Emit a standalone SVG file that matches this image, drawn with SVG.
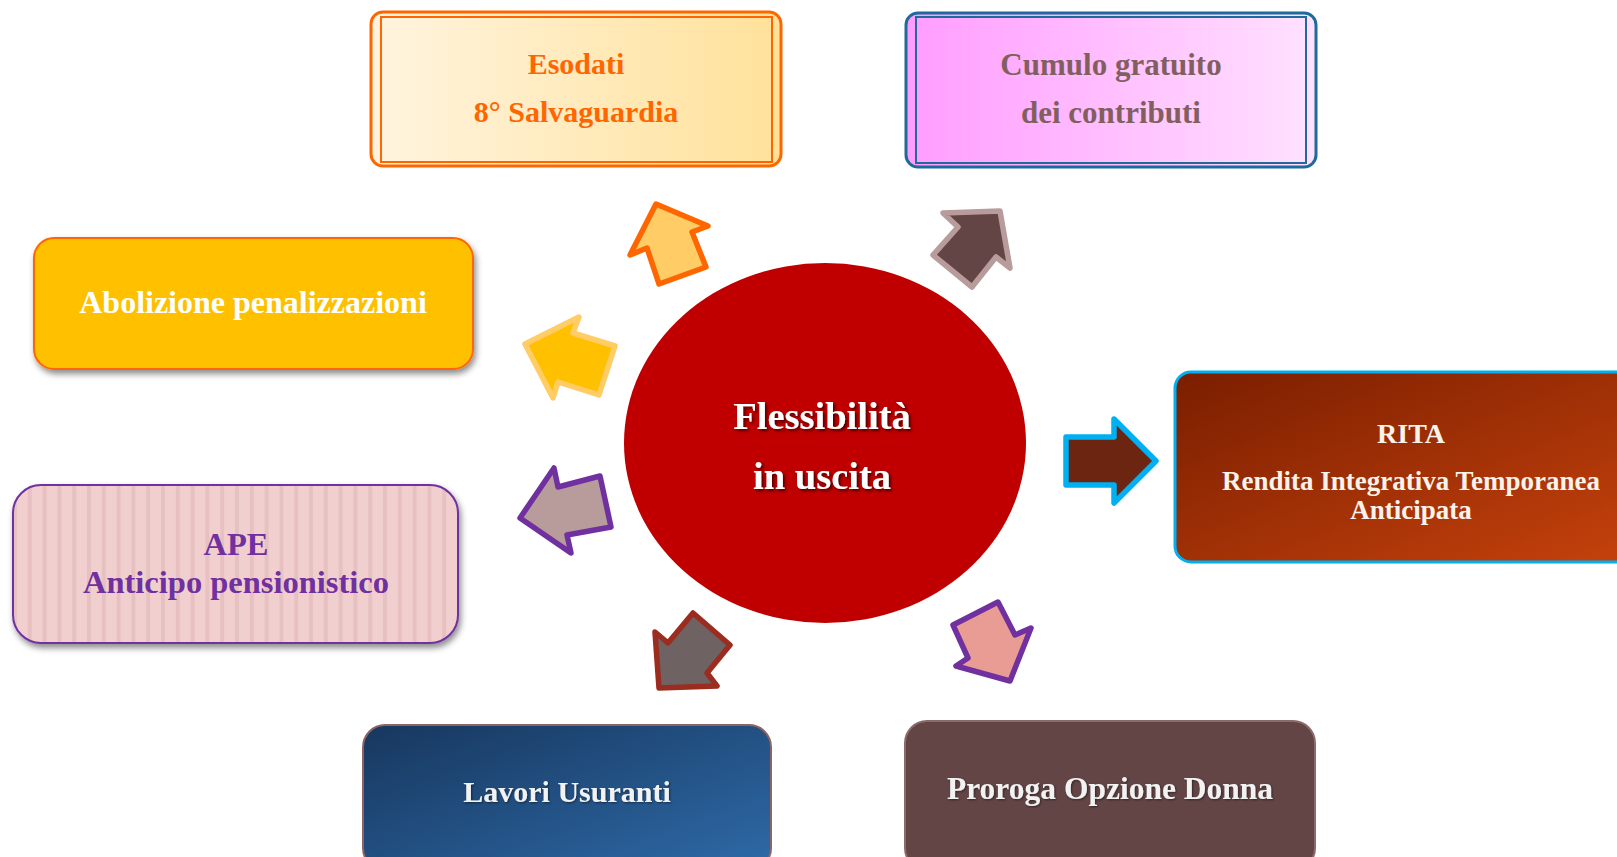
<svg xmlns="http://www.w3.org/2000/svg" width="1617" height="857" viewBox="0 0 1617 857">
<defs>
<linearGradient id="gEso" x1="0" y1="0" x2="1" y2="0"><stop offset="0" stop-color="#FFF4DF"/><stop offset="1" stop-color="#FFE19A"/></linearGradient>
<linearGradient id="gCum" x1="0" y1="0" x2="1" y2="0"><stop offset="0" stop-color="#FF9CFF"/><stop offset="1" stop-color="#FFE2FF"/></linearGradient>
<linearGradient id="gLav" x1="0" y1="0" x2="1" y2="1"><stop offset="0" stop-color="#17375E"/><stop offset="1" stop-color="#2E6AA8"/></linearGradient>
<linearGradient id="gRita" x1="0" y1="0" x2="1" y2="1"><stop offset="0" stop-color="#7A1E00"/><stop offset="1" stop-color="#C6420C"/></linearGradient>
<pattern id="pStripe" patternUnits="userSpaceOnUse" x="13" y="0" width="14.8" height="20"><rect width="14.8" height="20" fill="#F2CFCF"/><rect x="0" width="4" height="20" fill="#E7C1C1"/></pattern>
<filter id="shadow" x="-10%" y="-10%" width="120%" height="130%"><feDropShadow dx="2" dy="4" stdDeviation="3" flood-color="#000" flood-opacity="0.45"/></filter>
<filter id="tshadow" x="-10%" y="-20%" width="120%" height="150%"><feDropShadow dx="2" dy="2" stdDeviation="1.5" flood-color="#400000" flood-opacity="0.9"/></filter>
<filter id="tsoft" x="-10%" y="-20%" width="120%" height="150%"><feDropShadow dx="1" dy="1" stdDeviation="1" flood-color="#000" flood-opacity="0.5"/></filter>
</defs>
<style>
text{font-family:"Liberation Serif","Times New Roman",serif;font-weight:bold;text-anchor:middle}
.arrow{stroke-linejoin:round;stroke-width:5.5}
</style>
<rect width="1617" height="857" fill="#FFFFFF"/>

<g id="connectors">
<polygon class="arrow" fill="#FFCC66" stroke="#FF6600" points="656,204 708,226 692,232 706,267 659,284 647,248 630,255"/>
<polygon class="arrow" fill="#634546" stroke="#B89C9C" points="1000,211 943,213 958,227 933,255 972,287 996,257 1010,268"/>
<polygon class="arrow" fill="#FFC000" stroke="#FFCC66" points="525,344 579,317 573,333 615,346 599,395 558,382 553,398"/>
<polygon class="arrow" fill="#6B2510" stroke="#00B0F0" stroke-width="6" points="1066,437 1114,437 1114,419 1156,461 1114,503 1114,485 1066,485"/>
<polygon class="arrow" fill="#B89C9C" stroke="#7030A0" points="520,518 554,468 558,487 600,476 611,527 567,535 571,553"/>
<polygon class="arrow" fill="#6E6262" stroke="#9B2D20" points="659,688 655,632 668,643 693,613 730,645 707,673 717,686"/>
<polygon class="arrow" fill="#E89C94" stroke="#7030A0" points="1010,681 1031,628 1015,635 998,602 953,625 968,658 956,666"/>
</g>

<g id="center">
<ellipse cx="825" cy="443" rx="201" ry="180" fill="#C00000"/>
<g fill="#FFFFFF" font-size="38.5" filter="url(#tshadow)">
<text x="822" y="429">Flessibilità</text>
<text x="822" y="489">in uscita</text>
</g>
</g>

<g id="esodati">
<rect x="371" y="12" width="410" height="154" rx="12" fill="url(#gEso)" stroke="#FF6600" stroke-width="3"/>
<rect x="381" y="17" width="391" height="145" fill="none" stroke="#FF6600" stroke-width="2"/>
<g fill="#FF6600" font-size="30">
<text x="576" y="74">Esodati</text>
<text x="576" y="122">8° Salvaguardia</text>
</g>
</g>

<g id="cumulo">
<rect x="906" y="13" width="410" height="154" rx="12" fill="url(#gCum)" stroke="#1F6A9C" stroke-width="3"/>
<rect x="916" y="17" width="390" height="146" fill="none" stroke="#1F6A9C" stroke-width="2"/>
<g fill="#825F5F" font-size="31">
<text x="1111" y="75">Cumulo gratuito</text>
<text x="1111" y="123">dei contributi</text>
</g>
</g>

<g id="abolizione">
<rect x="34" y="238" width="439" height="131" rx="20" fill="#FFC000" stroke="#FF6600" stroke-width="2" filter="url(#shadow)"/>
<text x="253" y="313" fill="#FFFFFF" font-size="32">Abolizione penalizzazioni</text>
</g>

<g id="ape">
<rect x="13" y="485" width="445" height="158" rx="28" fill="url(#pStripe)" stroke="#7030A0" stroke-width="2" filter="url(#shadow)"/>
<g fill="#7030A0" font-size="32.5">
<text x="236" y="555">APE</text>
<text x="236" y="593">Anticipo pensionistico</text>
</g>
</g>

<g id="rita">
<rect x="1175" y="372" width="470" height="190" rx="16" fill="url(#gRita)" stroke="#00B0F0" stroke-width="3"/>
<g fill="#FBF3EA">
<text x="1411" y="443" font-size="28">RITA</text>
<text x="1411" y="490" font-size="27">Rendita Integrativa Temporanea</text>
<text x="1411" y="519" font-size="27">Anticipata</text>
</g>
</g>

<g id="lavori">
<rect x="363" y="725" width="408" height="145" rx="22" fill="url(#gLav)" stroke="#8C6464" stroke-width="2"/>
<text x="567" y="802" fill="#F2F2F2" font-size="30" filter="url(#tsoft)">Lavori Usuranti</text>
</g>

<g id="proroga">
<rect x="905" y="721" width="410" height="149" rx="22" fill="#634546" stroke="#8C6A6A" stroke-width="2"/>
<text x="1110" y="799" fill="#F2F2F2" font-size="31.5" filter="url(#tsoft)">Proroga Opzione Donna</text>
</g>
</svg>
